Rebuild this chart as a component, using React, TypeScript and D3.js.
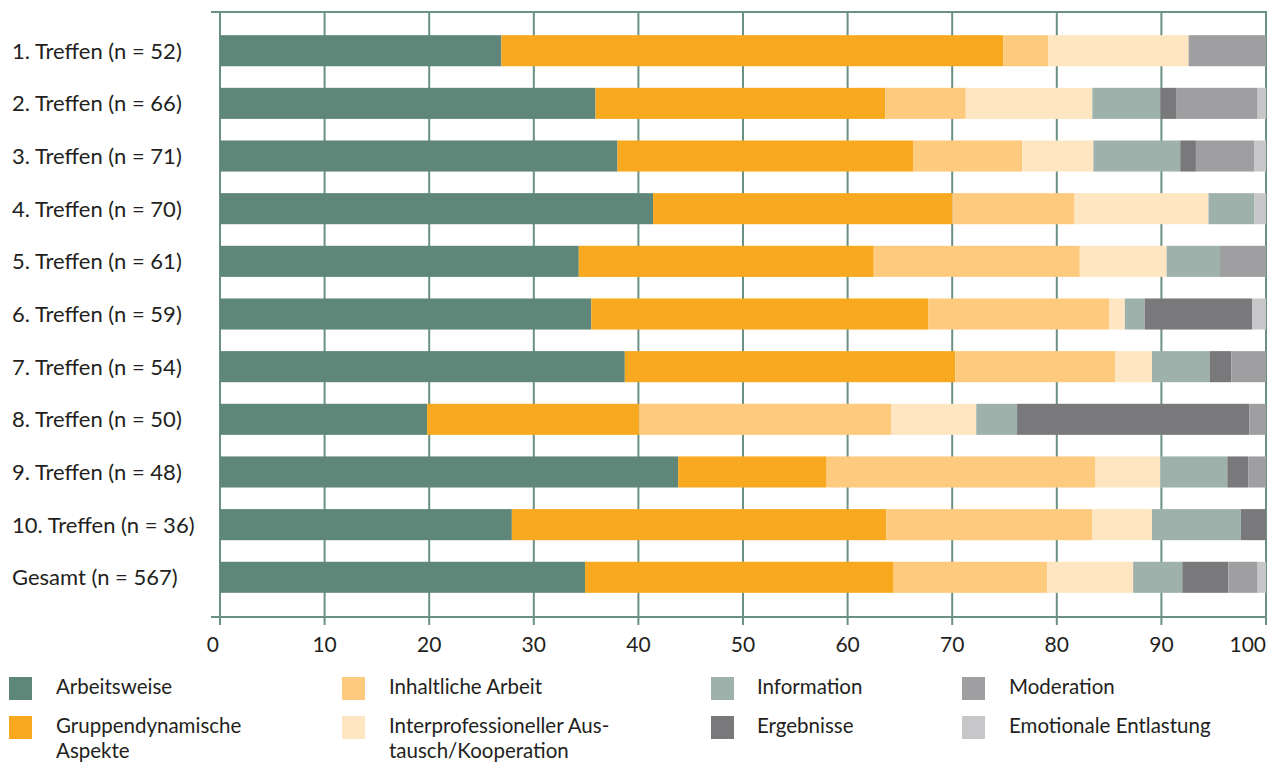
import React, { useEffect, useRef } from 'react';
import * as d3 from 'd3';

const categories = [
    '1. Treffen (n = 52)',
    '2. Treffen (n = 66)',
    '3. Treffen (n = 71)',
    '4. Treffen (n = 70)',
    '5. Treffen (n = 61)',
    '6. Treffen (n = 59)',
    '7. Treffen (n = 54)',
    '8. Treffen (n = 50)',
    '9. Treffen (n = 48)',
    '10. Treffen (n = 36)',
    'Gesamt (n = 567)',
];

// percent per row, one array per category of the legend
const arbeitsweise = [26.9, 35.9, 38.0, 41.4, 34.3, 35.5, 38.7, 19.8, 43.8, 27.9, 34.9];
const gruppendynamik = [48.0, 27.7, 28.3, 28.6, 28.2, 32.2, 31.6, 20.3, 14.2, 35.8, 29.5];
const inhaltlich = [4.3, 7.7, 10.4, 11.7, 19.7, 17.3, 15.3, 24.1, 25.7, 19.7, 14.7];
const interprof = [13.4, 12.1, 6.8, 12.8, 8.3, 1.5, 3.5, 8.1, 6.2, 5.7, 8.2];
const information = [0, 6.5, 8.3, 4.4, 5.1, 1.9, 5.5, 3.9, 6.4, 8.5, 4.7];
const ergebnisse = [0, 1.5, 1.5, 0, 0, 10.3, 2.1, 22.2, 2.0, 2.4, 4.4];
const moderation = [7.4, 7.8, 5.6, 0, 4.4, 0, 3.3, 1.6, 1.7, 0, 2.8];
const emotional = [0, 0.8, 1.1, 1.1, 0, 1.3, 0, 0, 0, 0, 0.8];

const seriesKeys = ['Arbeitsweise', 'Gruppendynamische Aspekte', 'Inhaltliche Arbeit',
    'Interprofessioneller Austausch/Kooperation', 'Information', 'Ergebnisse', 'Moderation', 'Emotionale Entlastung'];
const seriesValues = [arbeitsweise, gruppendynamik, inhaltlich, interprof, information, ergebnisse, moderation, emotional];
const colours = ['#5e877a', '#f9a91f', '#fdca7e', '#fee6c3', '#9eb2ab', '#79797b', '#9f9fa1', '#c7c7c9'];

// legend labels, with the line breaks of the original
const legendLines = [
    ['Arbeitsweise'], ['Gruppendynamische', 'Aspekte'], ['Inhaltliche Arbeit'],
    ['Interprofessioneller Aus-', 'tausch/Kooperation'], ['Information'], ['Ergebnisse'],
    ['Moderation'], ['Emotionale Entlastung'],
];
const xTicks = [0, 10, 20, 30, 40, 50, 60, 70, 80, 90, 100];

const font = 'Lato, "Open Sans", sans-serif';
const gridColour = '#6b9184';
const textColour = '#231f20';

export default function App() {
    const width = 1268;
    const height = 762;
    const ref = useRef(null);

    useEffect(() => {
        const svg = d3.select(ref.current);
        svg.selectAll('*').remove();

        const scaleX = d3.scaleLinear().domain([0, 100]).range([220, 1266]);
        const scaleY = d3.scaleBand()
            .domain(categories)
            .range([12, 616])
            .paddingInner(0.41)
            .paddingOuter(0.44);
        const axisY = 617;

        // grid lines, reaching a little below the axis as ticks
        svg.append('g')
            .selectAll('line')
            .data(xTicks)
            .enter()
            .append('line')
              .attr('x1', d => scaleX(d))
              .attr('x2', d => scaleX(d))
              .attr('y1', 12)
              .attr('y2', 625)
              .attr('stroke', gridColour)
              .attr('stroke-width', 2);

        svg.append('line')
            .attr('x1', 211).attr('x2', scaleX(100) + 1)
            .attr('y1', 12).attr('y2', 12)
            .attr('stroke', gridColour).attr('stroke-width', 2);
        svg.append('line')
            .attr('x1', 211).attr('x2', scaleX(100) + 1)
            .attr('y1', axisY).attr('y2', axisY)
            .attr('stroke', gridColour).attr('stroke-width', 2);

        const rows = categories.map((c, i) => {
            const row: any = { category: c };
            seriesKeys.forEach((k, j) => { row[k] = seriesValues[j][i]; });
            return row;
        });
        const stacked = d3.stack().keys(seriesKeys)(rows);

        svg.append('g')
            .selectAll('g')
            .data(stacked)
            .enter()
            .append('g')
              .attr('fill', (_d, i) => colours[i])
            .selectAll('rect')
            .data(d => d)
            .enter()
            .append('rect')
              .attr('x', d => scaleX(d[0]))
              .attr('y', d => scaleY(d.data.category) as number)
              .attr('width', d => Math.max(0, scaleX(d[1]) - scaleX(d[0])))
              .attr('height', scaleY.bandwidth());

        // category labels, left aligned
        svg.append('g')
            .selectAll('text')
            .data(categories)
            .enter()
            .append('text')
              .attr('x', 12)
              .attr('y', d => (scaleY(d) as number) + scaleY.bandwidth() / 2)
              .attr('dy', '0.36em')
              .attr('font-family', font)
              .attr('font-size', 22)
              .attr('fill', textColour)
              .text(d => d);

        // first and last tick labels sit inside the frame
        svg.append('g')
            .selectAll('text')
            .data(xTicks)
            .enter()
            .append('text')
              .attr('x', d => d === 0 ? scaleX(d) - 1 : scaleX(d))
              .attr('y', 652)
              .attr('text-anchor', d => d === 0 || d === 100 ? 'end' : 'middle')
              .attr('font-family', font)
              .attr('font-size', 21)
              .attr('fill', textColour)
              .text(d => d);

        // legend: 4 columns, 2 rows
        const colX = [9, 342, 711, 962];
        const textX = [56, 389, 757, 1009];
        const rowY = [677, 716];
        const legend = svg.append('g')
            .selectAll('g')
            .data(seriesKeys)
            .enter()
            .append('g');
        legend.append('rect')
            .attr('x', (_d, i) => colX[Math.floor(i / 2)])
            .attr('y', (_d, i) => rowY[i % 2])
            .attr('width', 23)
            .attr('height', 23)
            .attr('fill', (_d, i) => colours[i]);
        legend.append('text')
            .attr('x', (_d, i) => textX[Math.floor(i / 2)])
            .attr('y', (_d, i) => rowY[i % 2] + 17)
            .attr('font-family', font)
            .attr('font-size', 20.5)
            .attr('fill', textColour)
            .selectAll('tspan')
            .data((_d, i) => legendLines[i])
            .enter()
            .append('tspan')
              .attr('x', function () { return (this as any).parentNode.getAttribute('x'); })
              .attr('dy', (_d, k) => k === 0 ? 0 : 25)
              .text(d => d);
    }, []);

    return (
        <div style={{ position: 'absolute', left: 0, top: 0 }}>
            <svg ref={ref} width={width} height={height} viewBox={`0 0 ${width} ${height}`}>
            </svg>
        </div>
    );
}
